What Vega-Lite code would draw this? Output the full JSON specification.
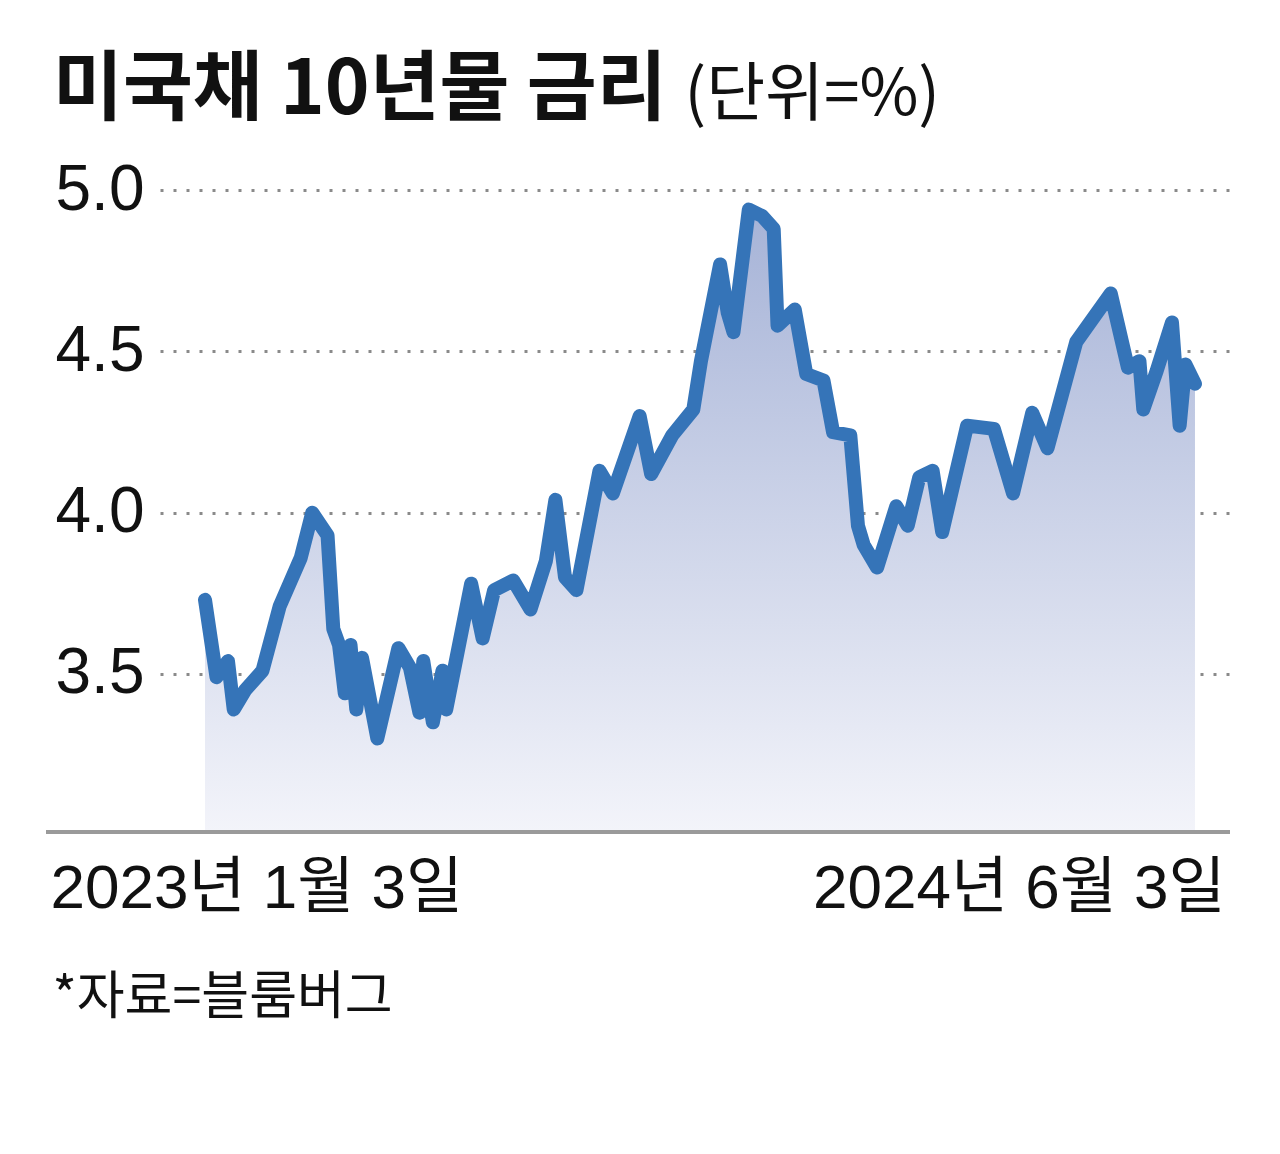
{
  "$schema": "https://vega.github.io/schema/vega-lite/v6.json",
  "autosize": {"type": "none"},
  "width": 1070,
  "height": 674,
  "padding": {"left": 160, "top": 158, "right": 50, "bottom": 322},
  "background": "white",
  "config": {"view": {"stroke": null}},
  "title": {
    "text": "미국채 10년물 금리",
    "anchor": "start",
    "frame": "group",
    "font": "Noto Sans CJK KR",
    "fontSize": 76,
    "fontWeight": "bold",
    "color": "#111111",
    "baseline": "alphabetic",
    "dx": -107,
    "dy": 127,
    "offset": 0
  },
  "data": {
    "values": [
      {"date": "2023-01-03", "rate": 3.73},
      {"date": "2023-01-09", "rate": 3.49},
      {"date": "2023-01-15", "rate": 3.54},
      {"date": "2023-01-18", "rate": 3.39},
      {"date": "2023-01-24", "rate": 3.45},
      {"date": "2023-02-02", "rate": 3.51},
      {"date": "2023-02-11", "rate": 3.71},
      {"date": "2023-02-22", "rate": 3.86},
      {"date": "2023-02-28", "rate": 4.0},
      {"date": "2023-03-08", "rate": 3.93},
      {"date": "2023-03-11", "rate": 3.64},
      {"date": "2023-03-14", "rate": 3.59},
      {"date": "2023-03-17", "rate": 3.44},
      {"date": "2023-03-20", "rate": 3.59},
      {"date": "2023-03-23", "rate": 3.39},
      {"date": "2023-03-26", "rate": 3.55},
      {"date": "2023-04-03", "rate": 3.3},
      {"date": "2023-04-14", "rate": 3.58},
      {"date": "2023-04-20", "rate": 3.52},
      {"date": "2023-04-25", "rate": 3.38},
      {"date": "2023-04-27", "rate": 3.54},
      {"date": "2023-05-02", "rate": 3.35},
      {"date": "2023-05-07", "rate": 3.51},
      {"date": "2023-05-09", "rate": 3.39},
      {"date": "2023-05-22", "rate": 3.78},
      {"date": "2023-05-28", "rate": 3.61},
      {"date": "2023-06-03", "rate": 3.76},
      {"date": "2023-06-13", "rate": 3.79},
      {"date": "2023-06-22", "rate": 3.7},
      {"date": "2023-06-30", "rate": 3.85},
      {"date": "2023-07-05", "rate": 4.04},
      {"date": "2023-07-10", "rate": 3.8},
      {"date": "2023-07-16", "rate": 3.76},
      {"date": "2023-07-28", "rate": 4.13},
      {"date": "2023-08-04", "rate": 4.06},
      {"date": "2023-08-18", "rate": 4.3},
      {"date": "2023-08-24", "rate": 4.12},
      {"date": "2023-09-04", "rate": 4.24},
      {"date": "2023-09-15", "rate": 4.32},
      {"date": "2023-09-19", "rate": 4.47},
      {"date": "2023-09-29", "rate": 4.77},
      {"date": "2023-10-03", "rate": 4.62},
      {"date": "2023-10-06", "rate": 4.56},
      {"date": "2023-10-14", "rate": 4.94},
      {"date": "2023-10-21", "rate": 4.92},
      {"date": "2023-10-27", "rate": 4.88},
      {"date": "2023-10-29", "rate": 4.58},
      {"date": "2023-11-07", "rate": 4.63},
      {"date": "2023-11-13", "rate": 4.43},
      {"date": "2023-11-22", "rate": 4.41},
      {"date": "2023-11-27", "rate": 4.25},
      {"date": "2023-12-06", "rate": 4.24},
      {"date": "2023-12-10", "rate": 3.96},
      {"date": "2023-12-13", "rate": 3.9},
      {"date": "2023-12-20", "rate": 3.83},
      {"date": "2023-12-30", "rate": 4.02},
      {"date": "2024-01-05", "rate": 3.96},
      {"date": "2024-01-11", "rate": 4.11},
      {"date": "2024-01-18", "rate": 4.13},
      {"date": "2024-01-23", "rate": 3.94},
      {"date": "2024-02-05", "rate": 4.27},
      {"date": "2024-02-19", "rate": 4.26},
      {"date": "2024-02-29", "rate": 4.06},
      {"date": "2024-03-04", "rate": 4.16},
      {"date": "2024-03-10", "rate": 4.31},
      {"date": "2024-03-18", "rate": 4.2},
      {"date": "2024-04-02", "rate": 4.53},
      {"date": "2024-04-20", "rate": 4.68},
      {"date": "2024-04-29", "rate": 4.45},
      {"date": "2024-05-05", "rate": 4.47},
      {"date": "2024-05-07", "rate": 4.32},
      {"date": "2024-05-14", "rate": 4.44},
      {"date": "2024-05-22", "rate": 4.59},
      {"date": "2024-05-26", "rate": 4.27},
      {"date": "2024-05-29", "rate": 4.46},
      {"date": "2024-06-03", "rate": 4.4}
    ]
  },
  "encoding": {
    "x": {
      "field": "date",
      "type": "temporal",
      "scale": {"domain": [{"year": 2022, "month": 12, "date": 10, "hours": 12}, {"year": 2024, "month": 6, "date": 21, "hours": 7}]},
      "axis": {
        "values": [{"year": 2023, "month": 1, "date": 3}, {"year": 2024, "month": 6, "date": 3}],
        "format": "%Y년 %-m월 %-d일",
        "grid": false,
        "domain": false,
        "ticks": false,
        "tickSize": 0,
        "labelFont": "Liberation Sans, Noto Sans CJK KR",
        "labelFontSize": 62,
        "labelColor": "#111111",
        "labelBaseline": "alphabetic",
        "labelPadding": 75,
        "labelLimit": 0,
        "labelAlign": {"condition": {"test": "datum.value < datetime(2023, 6, 1)", "value": "left"}, "value": "right"},
        "labelOffset": {"condition": {"test": "datum.value < datetime(2023, 6, 1)", "value": -155}, "value": 30},
        "labelOverlap": false,
        "labelBound": false,
        "title": "*자료=블룸버그",
        "titleFont": "Noto Sans CJK KR",
        "titleFontSize": 52,
        "titleFontWeight": "normal",
        "titleColor": "#111111",
        "titleAlign": "left",
        "titleBaseline": "alphabetic",
        "titleX": -108,
        "titleY": 181
      }
    },
    "y": {
      "field": "rate",
      "type": "quantitative",
      "scale": {"domain": [3.01, 5.1], "zero": false, "nice": false},
      "axis": {
        "values": [3.5, 4.0, 4.5, 5.0],
        "format": ".1f",
        "grid": true,
        "gridDash": [3, 10],
        "gridColor": "#8a8a8a",
        "gridWidth": 3,
        "domain": false,
        "ticks": false,
        "tickSize": 0,
        "labelFont": "Liberation Sans, Noto Sans CJK KR",
        "labelFontSize": 64,
        "labelColor": "#111111",
        "labelAlign": "left",
        "labelBaseline": "middle",
        "labelPadding": 105,
        "title": "(단위=%)",
        "titleFont": "Noto Sans CJK KR",
        "titleFontSize": 64,
        "titleFontWeight": "normal",
        "titleColor": "#111111",
        "titleAngle": 0,
        "titleAlign": "left",
        "titleBaseline": "alphabetic",
        "titleX": 524,
        "titleY": -44
      }
    }
  },
  "layer": [
    {
      "mark": {
        "type": "area",
        "color": {
          "gradient": "linear",
          "x1": 0, "y1": 0, "x2": 0, "y2": 1,
          "stops": [
            {"offset": 0, "color": "#a6b3d7"},
            {"offset": 1, "color": "#f3f4fa"}
          ]
        }
      },
      "encoding": {"y2": {"datum": 3.01}}
    },
    {
      "mark": {"type": "rule", "color": "#9a9a9a", "strokeWidth": 3},
      "encoding": {
        "x": {"datum": {"year": 2022, "month": 10, "date": 12}, "type": "temporal"},
        "x2": {"datum": {"year": 2024, "month": 6, "date": 21, "hours": 7}},
        "y": {"datum": 3.01, "type": "quantitative"}
      }
    },
    {
      "mark": {"type": "line", "color": "#3574b8", "strokeWidth": 14, "strokeJoin": "round", "strokeCap": "round"}
    }
  ]
}
